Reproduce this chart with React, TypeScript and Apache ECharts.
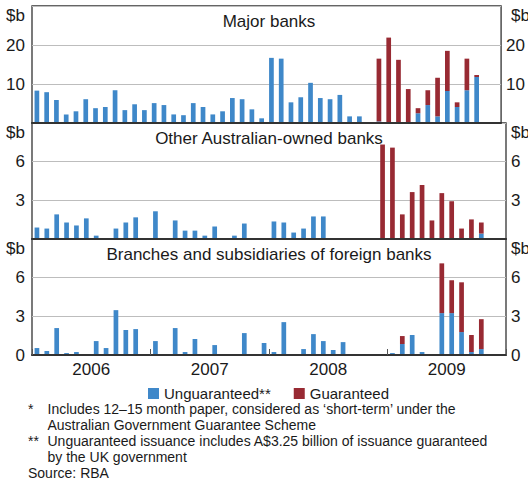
import React, { useEffect, useRef } from 'react';
import * as echarts from 'echarts';

const years = ['2006', '2007', '2008', '2009'];
const monthNames = ['Jan', 'Feb', 'Mar', 'Apr', 'May', 'Jun', 'Jul', 'Aug', 'Sep', 'Oct', 'Nov', 'Dec'];
const months = years.flatMap((y) => monthNames.map((m) => `${m} ${y}`));

// Jan 2006 – Dec 2009 ($b)
const majorUnguaranteed = [
  8.3, 7.9, 5.9, 2.2, 3.0, 6.1, 3.8, 4.1, 8.4, 3.3, 4.8, 3.3,
  5.1, 4.6, 2.2, 2.0, 5.1, 4.1, 2.2, 3.0, 6.4, 6.1, 3.5, 1.2,
  16.7, 16.5, 5.3, 6.6, 10.3, 6.4, 6.1, 7.2, 1.7, 1.7, 0, 0.4,
  0, 0, 0, 2.5, 4.6, 1.7, 8.2, 4.1, 8.4, 11.8, null, null,
];
const majorGuaranteed = [
  0, 0, 0, 0, 0, 0, 0, 0, 0, 0, 0, 0,
  0, 0, 0, 0, 0, 0, 0, 0, 0, 0, 0, 0,
  0, 0, 0, 0, 0, 0, 0, 0, 0, 0, 0, 16.1,
  21.9, 16.2, 8.7, 1.3, 3.8, 9.9, 10.3, 1.2, 8.1, 0.5, null, null,
];
const otherAusUnguaranteed = [
  0.89, 0.81, 1.91, 1.28, 1.05, 1.6, 0.26, 0.05, 0.81, 1.28, 1.68, 0.05,
  2.15, 0.05, 1.44, 0.65, 0.65, 0.26, 0.97, 0, 0.26, 1.2, 0.05, 0,
  1.36, 1.28, 0.5, 0.81, 1.75, 1.75, 0.05, 0.05, 0, 0, 0, 0,
  0, 0, 0, 0, 0, 0, 0, 0, 0, 0.42, null, null,
];
const otherAusGuaranteed = [
  0, 0, 0, 0, 0, 0, 0, 0, 0, 0, 0, 0,
  0, 0, 0, 0, 0, 0, 0, 0, 0, 0, 0, 0,
  0, 0, 0, 0, 0, 0, 0, 0, 0, 0, 0, 7.33,
  7.09, 1.91, 3.64, 4.19, 1.44, 3.56, 2.93, 0.81, 1.52, 0.86, null, null,
];
const foreignUnguaranteed = [
  0.54, 0.31, 2.09, 0.15, 0.23, 0.08, 1.08, 0.54, 3.48, 1.93, 2.01, 0,
  1.08, 0.08, 2.09, 0.23, 1.24, 0, 0.77, 0, 0, 1.7, 0, 0.93,
  0.23, 2.55, 0.08, 0.46, 1.62, 1.08, 0.39, 1.0, 0, 0, 0, 0,
  0.15, 0.85, 1.55, 0.23, 0.08, 3.25, 3.25, 1.78, 0.23, 0.46, null, null,
];
const foreignGuaranteed = [
  0, 0, 0, 0, 0, 0, 0, 0, 0, 0, 0, 0,
  0, 0, 0, 0, 0, 0, 0, 0, 0, 0, 0, 0,
  0, 0, 0, 0, 0, 0, 0, 0, 0, 0, 0, 0,
  0, 0.62, 0, 0, 0, 3.86, 2.55, 3.86, 1.32, 2.32, null, null,
];

const panelTitles = ['Major banks', 'Other Australian-owned banks', 'Branches and subsidiaries of foreign banks'];
const panelMax = [30, 9, 9];
const panelInterval = [10, 3, 3];
const seriesNames = ['Unguaranteed**', 'Guaranteed'];
const footnotes = [
  ['*', 'Includes 12\u201315 month paper, considered as \u2018short-term\u2019 under the'],
  ['', 'Australian Government Guarantee Scheme'],
  ['**', 'Unguaranteed issuance includes A$3.25 billion of issuance guaranteed'],
  ['', 'by the UK government'],
  ['Source: RBA', ''],
];

const BLUE = '#3f88c9';
const RED = '#982a33';
const FONT = '"Liberation Sans", Arial, sans-serif';
const TEXT = '#1a1a1a';

const GL = 32;
const GR = 506;
const panelTops = [6, 123, 239];
const panelHeights = [117, 116, 116];

export default function App() {
  const ref = useRef<HTMLDivElement>(null);

  useEffect(() => {
    if (!ref.current) return;
    const chart = echarts.init(ref.current, undefined, { renderer: 'svg' });
    const data = [
      [majorUnguaranteed, majorGuaranteed],
      [otherAusUnguaranteed, otherAusGuaranteed],
      [foreignUnguaranteed, foreignGuaranteed],
    ];

    const grids = panelTops.map((t, i) => ({
      left: GL,
      width: GR - GL,
      top: t,
      height: panelHeights[i],
      show: true,
      borderColor: '#333',
      borderWidth: 1.3,
      backgroundColor: 'transparent',
    }));

    const xAxes: any[] = panelTops.map((_, i) => ({
      type: 'category',
      gridIndex: i,
      data: months,
      boundaryGap: true,
      axisLine: { show: true, lineStyle: { color: '#333', width: 2 } },
      axisTick: {
        show: i === 2,
        inside: true,
        length: 6,
        interval: (idx: number) => idx % 12 === 0,
        lineStyle: { color: '#555', width: 1 },
      },
      axisLabel: { show: false },
      splitLine: { show: false },
      z: 5,
    }));
    xAxes.push({
      type: 'value',
      gridIndex: 2,
      min: 0,
      max: 48,
      interval: 6,
      position: 'bottom',
      axisLine: { show: false },
      axisTick: { show: false },
      splitLine: { show: false },
      axisLabel: {
        show: true,
        margin: 6,
        fontSize: 17,
        fontFamily: FONT,
        color: TEXT,
        formatter: (v: number) => {
          const k = (v - 6) / 12;
          return Number.isInteger(k) && k >= 0 && k < years.length ? years[k] : '';
        },
      },
    });

    const yAxes: any[] = [];
    panelTops.forEach((_, i) => {
      ['left', 'right'].forEach((pos) => {
        yAxes.push({
          type: 'value',
          gridIndex: i,
          position: pos,
          min: 0,
          max: panelMax[i],
          interval: panelInterval[i],
          axisLine: { show: false },
          axisTick: { show: false },
          splitLine: { show: pos === 'left', lineStyle: { color: '#bdbdbd', width: 1 } },
          axisLabel: {
            margin: pos === 'left' ? 7 : 5,
            fontSize: 17,
            fontFamily: FONT,
            color: TEXT,
            showMinLabel: true,
            showMaxLabel: true,
            formatter: (v: number) => {
              if (v === panelMax[i]) return '';
              if (v === 0) return i === 2 ? '0' : '';
              return String(v);
            },
          },
        });
      });
    });

    const series: any[] = [];
    data.forEach((pair, i) => {
      pair.forEach((vals, j) => {
        series.push({
          name: seriesNames[j],
          type: 'bar',
          xAxisIndex: i,
          yAxisIndex: i * 2,
          stack: 'p' + i,
          barWidth: 4.7,
          data: vals,
          itemStyle: { color: j === 0 ? BLUE : RED },
        });
      });
    });

    const graphics: any[] = [];
    panelTitles.forEach((t, i) => {
      graphics.push({
        type: 'text',
        x: (GL + GR) / 2,
        y: panelTops[i] + 15,
        style: {
          text: t,
          fontSize: 17,
          fontFamily: FONT,
          fill: TEXT,
          textAlign: 'center',
          textVerticalAlign: 'middle',
        },
      });
      graphics.push({
        type: 'text',
        x: GL - 7,
        y: panelTops[i] + 1,
        style: { text: '$b', fontSize: 17, fontFamily: FONT, fill: TEXT, textAlign: 'right', textVerticalAlign: 'top' },
      });
      graphics.push({
        type: 'text',
        x: GR + 5,
        y: panelTops[i] + 1,
        style: { text: '$b', fontSize: 17, fontFamily: FONT, fill: TEXT, textAlign: 'left', textVerticalAlign: 'top' },
      });
    });
    footnotes.forEach((f, k) => {
      const y = 409 + k * 16;
      if (f[0]) {
        graphics.push({
          type: 'text',
          x: 28,
          y,
          style: { text: f[0], fontSize: 14, fontFamily: FONT, fill: TEXT, textVerticalAlign: 'middle' },
        });
      }
      if (f[1]) {
        graphics.push({
          type: 'text',
          x: 47.5,
          y,
          style: { text: f[1], fontSize: 14, fontFamily: FONT, fill: TEXT, textVerticalAlign: 'middle' },
        });
      }
    });

    chart.setOption({
      animation: false,
      backgroundColor: '#ffffff',
      grid: grids,
      xAxis: xAxes,
      yAxis: yAxes,
      series,
      legend: {
        data: seriesNames,
        left: 143,
        top: 381,
        icon: 'rect',
        itemWidth: 11,
        itemHeight: 11,
        itemGap: 23,
        textStyle: { fontSize: 15, fontFamily: FONT, color: TEXT },
      },
      graphic: graphics,
    });
    return () => chart.dispose();
  }, []);

  return (
    <div
      ref={ref}
      style={{ position: 'fixed', left: 0, top: 0, width: 528, height: 482, background: '#fff' }}
    />
  );
}
